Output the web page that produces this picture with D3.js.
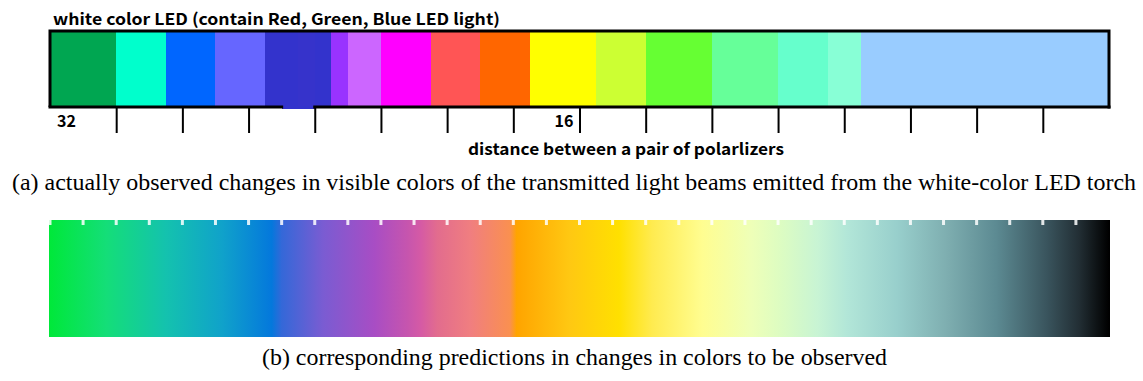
<!DOCTYPE html>
<html>
<head>
<meta charset="utf-8">
<script src="https://cdn.jsdelivr.net/npm/d3@7"></script>
<style>
  body { margin: 0; background: #fff; }
  svg { display: block; }
  .gothic { font-family: "Noto Sans CJK JP", "DejaVu Sans", sans-serif; font-weight: bold; }
  .serif { font-family: "Liberation Serif", "Times New Roman", serif; }
</style>
</head>
<body>
<div id="chart"></div>
<script>
// (a) observed colours: band edges in distance units (32 -> 0) and their fills
const bandEdges = [32, 30, 28.5, 27, 25.5, 24.5, 24, 23.5, 23, 22, 20.5, 19, 17.5, 15.5, 14, 12, 10, 8.5, 7.5, 0];
const bandColors = ["#00a651", "#00ffcc", "#0066ff", "#6666ff", "#3333cc", "#3633cb", "#3333cc", "#9933ff",
  "#cc66ff", "#ff00ff", "#ff5555", "#ff6600", "#ffff00", "#ccff33", "#66ff33", "#66ff99", "#66ffcc",
  "#88ffd6", "#99ccff"];
const majorTicks = [30, 28, 26, 24, 22, 20, 18, 16, 14, 12, 10, 8, 6, 4, 2];
const tickLabels = [32, 16];

// (b) predicted colours: gradient stops (distance, colour)
const gradStops = [32, 30.3, 28.5, 26.8, 25.3, 25.0, 23.75, 22.2, 21.2, 20.8, 20.3, 19.3, 18.1, 17.9,
  16.3, 14.8, 13.8, 12.3, 10.8, 9.9, 8.8, 7.9, 6.4, 4.9, 3.4, 1.9, 0.9, 0];
const gradColors = ["#00e83a", "#14de78", "#14c2ae", "#10a2ca", "#0478dc", "#3468d8", "#7a5cd2", "#a84dc4",
  "#c655ae", "#d55aa5", "#e26c8e", "#f07e80", "#fa9050", "#ffa400", "#ffc812", "#ffe000", "#ffeb50",
  "#fffd90", "#eeffb8", "#dcfcc2", "#c8f4d4", "#b2e6d8", "#98cfcc", "#7eaeb0", "#5c8a92", "#3a555e",
  "#222e34", "#000000"];
const minorTicks = d3.range(32, 0, -1);

const width = 1143, height = 381;

const svg = d3.select("#chart").append("svg")
    .attr("width", width)
    .attr("height", height);

const x = d3.scaleLinear()
    .domain([32, 0])
    .range([50, 1109]);

// ---- panel (a) ----
const topY = 31, botY = 107;

svg.append("text")
    .attr("class", "gothic")
    .attr("x", 53).attr("y", 25)
    .attr("font-size", 16)
    .attr("textLength", 447).attr("lengthAdjust", "spacingAndGlyphs")
    .text("white color LED (contain Red, Green, Blue LED light)");

const bands = bandColors.map((c, i) => ({ from: bandEdges[i], to: bandEdges[i + 1], color: c }));

svg.append("g")
    .attr("shape-rendering", "crispEdges")
  .selectAll("rect")
  .data(bands)
  .join("rect")
    .attr("x", d => Math.round(x(d.from)))
    .attr("y", topY)
    .attr("width", d => Math.round(x(d.to)) - Math.round(x(d.from)))
    .attr("height", botY - topY)
    .attr("fill", d => d.color);

// dark blue band spills through the bottom frame
svg.append("rect")
    .attr("shape-rendering", "crispEdges")
    .attr("x", Math.round(x(25))).attr("y", botY - 1)
    .attr("width", Math.round(x(24)) - Math.round(x(25))).attr("height", 3)
    .attr("fill", "#3333cc");

svg.append("path")
    .attr("d", `M${x(32)},${botY}V${topY}H${x(0)}V${botY + 1.5}`)
    .attr("fill", "none").attr("stroke", "#000").attr("stroke-width", 3);

svg.append("g").selectAll("line")
  .data([[32, 25], [24, 0]])
  .join("line")
    .attr("x1", d => x(d[0]) - 1.5).attr("x2", d => x(d[1]) + 1.5)
    .attr("y1", botY).attr("y2", botY)
    .attr("stroke", "#000").attr("stroke-width", 3);

const axis = svg.append("g")
    .attr("transform", `translate(0,${botY})`)
    .call(d3.axisBottom(x).tickValues(majorTicks).tickSize(26).tickFormat(""));
axis.select(".domain").remove();
axis.selectAll(".tick line").attr("stroke", "#000").attr("stroke-width", 2);

svg.append("g").selectAll("text")
  .data(tickLabels)
  .join("text")
    .attr("class", "gothic")
    .attr("x", d => d === 32 ? x(d) + 7 : x(d) - 6)
    .attr("y", 127)
    .attr("text-anchor", d => d === 32 ? "start" : "end")
    .attr("font-size", 16)
    .text(d => d);

svg.append("text")
    .attr("class", "gothic")
    .attr("x", 468).attr("y", 155)
    .attr("font-size", 16)
    .attr("textLength", 316).attr("lengthAdjust", "spacingAndGlyphs")
    .text("distance between a pair of polarlizers");

svg.append("text")
    .attr("class", "serif")
    .attr("x", 12).attr("y", 190)
    .attr("font-size", 24)
    .attr("textLength", 1124).attr("lengthAdjust", "spacingAndGlyphs")
    .text("(a) actually observed changes in visible colors of the transmitted light beams emitted from the white-color LED torch");

// ---- panel (b) ----
const gTop = 220, gBot = 337;

const grad = svg.append("defs").append("linearGradient")
    .attr("id", "pred")
    .attr("gradientUnits", "userSpaceOnUse")
    .attr("x1", x(32)).attr("x2", x(0))
    .attr("y1", 0).attr("y2", 0);

grad.selectAll("stop")
  .data(gradStops.map((s, i) => ({ s, c: gradColors[i] })))
  .join("stop")
    .attr("offset", d => (x(d.s) - x(32)) / (x(0) - x(32)))
    .attr("stop-color", d => d.c);

svg.append("rect")
    .attr("x", x(32) - 1).attr("y", gTop)
    .attr("width", x(0) - x(32) + 2).attr("height", gBot - gTop)
    .attr("fill", "url(#pred)");

svg.append("g").selectAll("rect")
  .data(minorTicks)
  .join("rect")
    .attr("x", d => x(d) - 1.5)
    .attr("y", gTop)
    .attr("width", 3).attr("height", 5)
    .attr("fill", "#fff").attr("opacity", 0.85);

svg.append("text")
    .attr("class", "serif")
    .attr("x", 262).attr("y", 365)
    .attr("font-size", 24)
    .attr("textLength", 625).attr("lengthAdjust", "spacingAndGlyphs")
    .text("(b) corresponding predictions in changes in colors to be observed");
</script>
</body>
</html>
